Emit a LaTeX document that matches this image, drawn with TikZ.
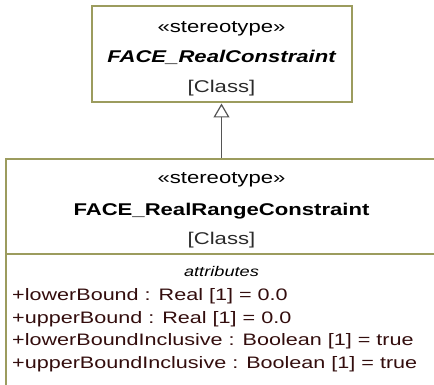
\documentclass[tikz,border=0pt]{standalone}
\usepackage{fontspec}
\setmainfont[FakeStretch=1.3]{Liberation Sans}
\usetikzlibrary{arrows.meta}
\definecolor{umlborder}{HTML}{9C9C5E}
\definecolor{attrtext}{HTML}{330D0D}
\definecolor{kindtext}{HTML}{2A2A2A}
\definecolor{genline}{HTML}{555555}
\tikzset{
  classbox/.style={draw=umlborder, line width=2pt, rectangle, inner sep=0pt},
  classtext/.style={anchor=base, inner sep=0pt, font=\fontsize{17}{20}\selectfont},
  attrline/.style={anchor=base west, inner sep=0pt, text=attrtext, font=\fontsize{16.6}{20}\selectfont}
}
\begin{document}
\begin{tikzpicture}[x=1pt, y=-1pt]
\clip (0,0) rectangle (434,385);
% parent class
\node[classbox, minimum width=260pt, minimum height=96.5pt] (real) at (221.5,54.25) {};
\node[classtext] (realst) at (221.5,32.5) {«stereotype»};
\node[classtext, font=\fontsize{17}{20}\selectfont\bfseries\itshape] (realname) at (221.5,62.7) {FACE\_RealConstraint};
\node[classtext, text=kindtext] (realkind) at (221.5,93) {[Class]};
% child class
\node[classbox, anchor=north west, minimum width=440pt, minimum height=240pt] (range) at (5,158) {};
\draw[umlborder, line width=2pt] (5,254) -- (445,254);
\node[classtext] (rangest) at (221.5,183) {«stereotype»};
\node[classtext, font=\fontsize{17}{20}\selectfont\bfseries] (rangename) at (221.5,215.7) {FACE\_RealRangeConstraint};
\node[classtext, text=kindtext] (rangekind) at (221.5,244) {[Class]};
\node[classtext, font=\fontsize{14}{16}\selectfont\itshape] (attrs) at (221.5,276.7) {attributes};
\node[attrline] (a1) at (12,300.7) {+lowerBound : Real [1] = 0.0};
\node[attrline] (a2) at (12,323.3) {+upperBound : Real [1] = 0.0};
\node[attrline] (a3) at (12,345.9) {+lowerBoundInclusive : Boolean [1] = true};
\node[attrline] (a4) at (12,368.4) {+upperBoundInclusive : Boolean [1] = true};
% generalization
\draw[genline, line width=1.3pt, -{Triangle[open, length=14pt, width=16pt, line width=1.2pt]}]
  (real.south |- range.north) -- (real.south);
\end{tikzpicture}
\end{document}
